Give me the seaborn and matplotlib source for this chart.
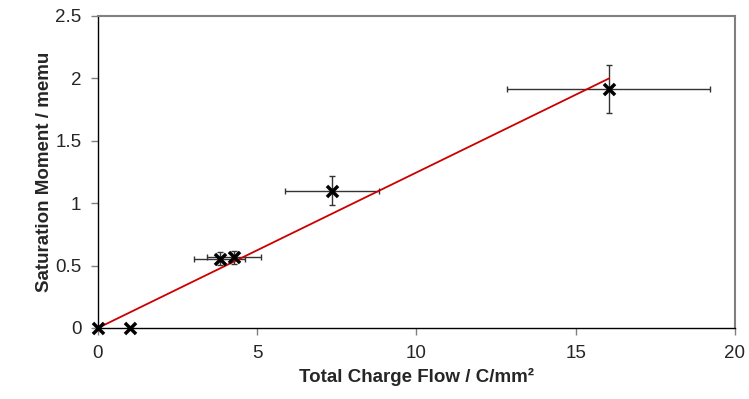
import numpy as np
import pandas as pd
import seaborn as sns
import matplotlib.pyplot as plt

# data
charge_flow = [0.0, 1.0, 3.83, 4.27, 7.34, 16.03]
moment = [0.0, 0.0, 0.555, 0.565, 1.10, 1.915]
charge_err = [0.0, 0.0, 0.80, 0.86, 1.47, 3.2]
moment_err = [0.0, 0.0, 0.05, 0.055, 0.115, 0.19]
fit_x = [0.0, 16.05]
fit_y = [0.0, 2.0]

df = pd.DataFrame({'charge': charge_flow, 'moment': moment})
fit_df = pd.DataFrame({'charge': fit_x, 'moment': fit_y})

sns.set_style('white')
plt.rcParams['font.family'] = ['Liberation Sans', 'DejaVu Sans']

fig = plt.figure(figsize=(7.49, 3.99), dpi=100)
ax = fig.add_axes([0.1308, 0.178, 0.8505, 0.782])

# error bars (only for the points that have them)
has_err = [i for i in range(len(charge_flow)) if charge_err[i] > 0]
ax.errorbar([charge_flow[i] for i in has_err], [moment[i] for i in has_err],
            xerr=[charge_err[i] for i in has_err], yerr=[moment_err[i] for i in has_err],
            fmt='none', ecolor='#333333', elinewidth=1.0, capsize=2.5, capthick=1.0, zorder=2)

sns.lineplot(data=fit_df, x='charge', y='moment', color='#cc0000', linewidth=1.3, ax=ax, zorder=3)
sns.scatterplot(data=df, x='charge', y='moment', marker='x', color='black', s=64,
                linewidth=2.5, ax=ax, zorder=4, clip_on=False)

ax.set_xlim(0, 20)
ax.set_ylim(0, 2.5)
ax.set_xticks([0, 5, 10, 15, 20])
ax.set_xticklabels(['0', '5', '10', '15', '20'])
ax.set_yticks([0, 0.5, 1, 1.5, 2, 2.5])
ax.set_yticklabels(['0', '0.5', '1', '1.5', '2', '2.5'])

ax.set_xlabel('Total Charge Flow / C/mm²', fontsize=13.5, fontweight='bold', labelpad=4.5)
ax.set_ylabel('Saturation Moment / memu', fontsize=13.5, fontweight='bold', labelpad=1.5)

ax.tick_params(axis='both', which='major', labelsize=13.5, length=5, width=1,
               color='#808080', direction='out', bottom=True, left=True, pad=7)

for side in ['left', 'bottom']:
    ax.spines[side].set_color('black')
    ax.spines[side].set_linewidth(1.0)
for side in ['top', 'right']:
    ax.spines[side].set_color('#808080')
    ax.spines[side].set_linewidth(1.5)

fig.savefig('out.png', dpi=100)
